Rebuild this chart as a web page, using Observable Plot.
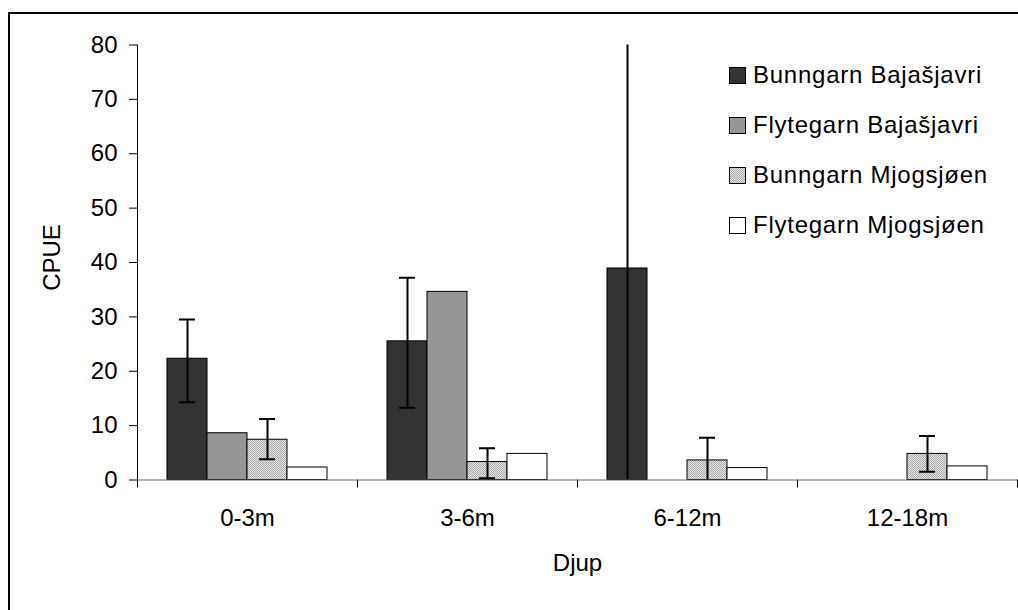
<!DOCTYPE html>
<html>
<head>
<meta charset="utf-8">
<script src="https://cdn.jsdelivr.net/npm/d3@7"></script>
<script src="https://cdn.jsdelivr.net/npm/@observablehq/plot@0.6"></script>
<style>
  html, body { margin: 0; padding: 0; background: #fff; overflow: hidden; }
  #wrap { position: relative; width: 1018px; height: 610px; font-family: "Liberation Sans", Arial, sans-serif; }
  #chart { position: absolute; left: 0; top: 0; }
  #border { position: absolute; left: 8px; top: 12px; width: 1100px; height: 700px; border: 2px solid #000; pointer-events: none; z-index: 2; }
  #legend { position: absolute; left: 729px; top: 50px; z-index: 3; font-size: 24px; letter-spacing: 0.75px; color: #000; }
  #legend .item { height: 50px; display: flex; align-items: center; }
  #legend svg { display: block; margin-right: 7px; }
</style>
</head>
<body>
<svg width="0" height="0" style="position:absolute">
  <defs>
    <pattern id="dots" width="2" height="2" patternUnits="userSpaceOnUse">
      <rect width="2" height="2" fill="#e6e6e6"></rect>
      <rect x="0" y="0" width="1" height="1" fill="#a9a9a9"></rect>
      <rect x="1" y="1" width="1" height="1" fill="#a9a9a9"></rect>
    </pattern>
  </defs>
</svg>
<div id="wrap">
  <div id="chart"></div>
  <div id="border"></div>
  <div id="legend"></div>
</div>
<script>
// ---- data ----
const categories = ["0-3m", "3-6m", "6-12m", "12-18m"];
const series = ["Bunngarn Bajašjavri", "Flytegarn Bajašjavri", "Bunngarn Mjogsjøen", "Flytegarn Mjogsjøen"];
const seriesColors = ["#333333", "#969696", "url(#dots)", "#ffffff"];

const bunngarnBajasjavri = [22.3, 25.5, 38.9, 0];
const flytegarnBajasjavri = [8.6, 34.6, 0, 0];
const bunngarnMjogsjoen = [7.4, 3.3, 3.6, 4.8];
const flytegarnMjogsjoen = [2.3, 4.8, 2.2, 2.5];

// error bars [low, high] (null = none)
const errBunngarnBajasjavri = [[14.3, 29.5], [13.3, 37.2], [-3.2, 81], null];
const errFlytegarnBajasjavri = [null, null, null, null];
const errBunngarnMjogsjoen = [[3.8, 11.2], [0.3, 5.85], [-0.5, 7.75], [1.5, 8.1]];
const errFlytegarnMjogsjoen = [null, null, null, null];

const yTicks = [0, 10, 20, 30, 40, 50, 60, 70, 80];

// ---- table ----
const valueSets = [bunngarnBajasjavri, flytegarnBajasjavri, bunngarnMjogsjoen, flytegarnMjogsjoen];
const errSets = [errBunngarnBajasjavri, errFlytegarnBajasjavri, errBunngarnMjogsjoen, errFlytegarnMjogsjoen];
const gapWidth = 1.5; // Excel-style gap between groups, in bar widths
const slots = series.length + gapWidth;
const rows = [];
categories.forEach((c, ci) => {
  series.forEach((s, si) => {
    const e = errSets[si][ci];
    rows.push({
      cat: c, ci, series: s, si,
      value: valueSets[si][ci],
      lo: e ? e[0] : null, hi: e ? e[1] : null,
      x1: ci + (gapWidth / 2 + si) / slots,
      x2: ci + (gapWidth / 2 + si + 1) / slots
    });
  });
});
const bars = rows.filter(d => d.value > 0);
const errs = rows.filter(d => d.lo != null);
const mid = d => (d.x1 + d.x2) / 2;

const plot = Plot.plot({
  width: 1018,
  height: 610,
  marginLeft: 137,
  marginRight: 1,
  marginTop: 44.5,
  marginBottom: 130.5,
  style: { fontFamily: "Liberation Sans, Arial, sans-serif", fontSize: "24px", background: "transparent", color: "#000" },
  x: { type: "linear", domain: [0, categories.length] },
  y: { type: "linear", domain: [0, 80] },
  color: { domain: series, range: seriesColors },
  marks: [
    Plot.rect(bars, { x1: "x1", x2: "x2", y1: 0, y2: "value", fill: "series", stroke: "#000", strokeWidth: 1 }),
    Plot.ruleX(errs, { x: mid, y1: "lo", y2: "hi", stroke: "#000", strokeWidth: 2, clip: "frame" }),
    Plot.ruleY(errs, { y: "hi", x1: mid, x2: mid, insetLeft: -8, insetRight: -8, stroke: "#000", strokeWidth: 2, clip: "frame" }),
    Plot.ruleY(errs, { y: "lo", x1: mid, x2: mid, insetLeft: -8, insetRight: -8, stroke: "#000", strokeWidth: 2, clip: "frame" }),
    Plot.axisY({ ticks: yTicks, tickSize: 8, tickPadding: 12, label: null, stroke: "#000", strokeOpacity: 1 }),
    Plot.axisX({ ticks: d3.range(categories.length + 1), tickSize: 8, tickFormat: () => "", label: null, stroke: "#000", strokeOpacity: 1 }),
    Plot.axisX({ ticks: categories.map((c, i) => i + 0.5), tickSize: 0, tickPadding: 29, tickFormat: v => categories[Math.floor(v)], label: null }),
    Plot.ruleX([0], { stroke: "#000" }),
    Plot.ruleY([0], { stroke: "#666" }),
    Plot.text(["CPUE"], { x: null, y: null, text: d => d, frameAnchor: "left", textAnchor: "middle", dx: -85, dy: -5, rotate: -90, fill: "#000" }),
    Plot.text(["Djup"], { x: null, y: null, text: d => d, frameAnchor: "bottom", textAnchor: "middle", dy: 83, lineAnchor: "middle", fill: "#000" })
  ]
});
document.getElementById("chart").appendChild(plot);

// legend
const legend = document.getElementById("legend");
series.forEach((s, i) => {
  const item = document.createElement("div");
  item.className = "item";
  item.innerHTML = `<svg width="17" height="17"><rect x="0.5" y="0.5" width="16" height="16" fill="${seriesColors[i]}" stroke="#000" stroke-width="1"></rect></svg><span>${s}</span>`;
  legend.appendChild(item);
});
</script>
</body>
</html>
